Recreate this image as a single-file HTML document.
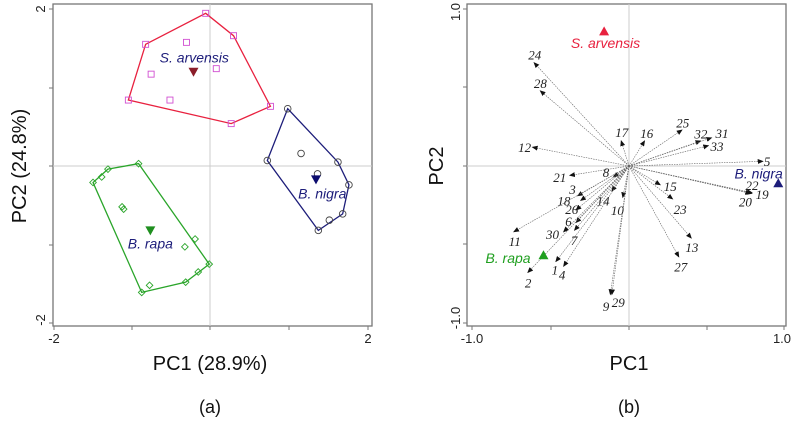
<!DOCTYPE html>
<html><head><meta charset="utf-8"><style>
body{margin:0;background:#fff;width:793px;height:420px;overflow:hidden}
svg{font-family:"Liberation Sans",sans-serif}
</style></head><body>
<svg id="c" width="793" height="420">
<g id="A"></g>
<g id="B"></g>
</svg>
<script>
// Panel (a) scores
const arvX=[-0.055,0.30,-0.82,-0.30,-0.75,0.08,-1.04,-0.51,0.27,0.77];
const arvY=[1.945,1.66,1.55,1.575,1.17,1.24,0.84,0.84,0.54,0.76];
const arvHull=[0,1,9,8,6,2];
const nigX=[0.99,1.16,0.73,1.63,1.37,1.77,1.69,1.52,1.38];
const nigY=[0.73,0.16,0.07,0.05,-0.10,-0.24,-0.61,-0.69,-0.82];
const nigHull=[0,3,5,6,8,2];
const rapX=[-0.91,-1.30,-1.38,-1.49,-1.12,-1.10,-0.19,-0.32,-0.01,-0.15,-0.31,-0.77,-0.87];
const rapY=[0.03,-0.04,-0.14,-0.21,-0.52,-0.55,-0.93,-1.03,-1.25,-1.35,-1.48,-1.52,-1.61];
const rapHull=[0,8,10,12,3,1];
const centroidsAX=[-0.21,1.35,-0.76];
const centroidsAY=[1.20,-0.17,-0.82];
const centroidLabelX=[-0.20,1.43,-0.76];
const centroidLabelY=[1.38,-0.35,-0.99];
// Panel (b) loadings
const varNames=["24","28","12","17","16","25","32","31","33","5","22","19","20","15","23","13","27","10","29","9","8","21","3","18","26","14","6","30","7","11","1","4","2"];
const varX=[-0.61,-0.57,-0.62,-0.05,0.10,0.34,0.46,0.53,0.51,0.86,0.79,0.79,0.78,0.20,0.28,0.40,0.32,-0.04,-0.11,-0.12,-0.10,-0.38,-0.33,-0.31,-0.34,-0.11,-0.34,-0.42,-0.35,-0.74,-0.47,-0.42,-0.65];
const varY=[0.66,0.48,0.12,0.16,0.16,0.23,0.16,0.18,0.13,0.03,-0.17,-0.175,-0.175,-0.12,-0.21,-0.46,-0.58,-0.20,-0.82,-0.82,-0.07,-0.06,-0.19,-0.22,-0.28,-0.16,-0.36,-0.42,-0.41,-0.42,-0.61,-0.64,-0.68];
const varLabelX=[-0.606,-0.570,-0.671,-0.047,0.114,0.346,0.462,0.598,0.566,0.888,0.791,0.856,0.748,0.265,0.329,0.404,0.333,-0.075,-0.069,-0.148,-0.148,-0.445,-0.363,-0.419,-0.368,-0.166,-0.389,-0.492,-0.353,-0.735,-0.477,-0.430,-0.649];
const varLabelY=[0.711,0.529,0.122,0.218,0.212,0.278,0.208,0.212,0.128,0.032,-0.120,-0.178,-0.227,-0.128,-0.274,-0.516,-0.642,-0.281,-0.869,-0.895,-0.039,-0.071,-0.146,-0.221,-0.274,-0.221,-0.353,-0.435,-0.473,-0.478,-0.660,-0.692,-0.745];
const speciesB=["S. arvensis","B. nigra","B. rapa"];
const speciesBX=[-0.16,0.96,-0.55];
const speciesBY=[0.86,-0.11,-0.57];
const speciesLabelX=[-0.151,0.834,-0.778];
const speciesLabelY=[0.786,-0.049,-0.589];

const NS="http://www.w3.org/2000/svg";
function mk(p,t,a,txt){const e=document.createElementNS(NS,t);for(const k in a)e.setAttribute(k,a[k]);if(txt!==undefined)e.textContent=txt;p.appendChild(e);return e;}
const A=document.getElementById('A'),B=document.getElementById('B');

const ax=v=>210+v*78.5, ay=v=>166-v*78.5;
function frame(g,x0,x1,y0,y1,cx,cy,xt,yt,name){
  let r=mk(g,'rect',{x:x0,y:y0,width:x1-x0,height:y1-y0,fill:'none',stroke:'#777','stroke-width':1.3});
  
  mk(g,'line',{x1:x0,x2:x1,y1:cy,y2:cy,stroke:'#ccc','stroke-width':1});
  mk(g,'line',{x1:cx,x2:cx,y1:y0,y2:y1,stroke:'#ccc','stroke-width':1});
  xt.forEach(x=>mk(g,'line',{x1:x,x2:x,y1:y1,y2:y1+4,stroke:'#777'}));
  yt.forEach(y=>mk(g,'line',{x1:x0,x2:x0-4,y1:y,y2:y,stroke:'#777'}));
}
frame(A,53,372,4,326,210,166,[54,132,210,289,368],[9,88,166,245,323],'panel-a');
let t;
t=mk(A,'text',{x:54,y:343,'font-size':13,'text-anchor':'middle',fill:'#222'},'-2');
t=mk(A,'text',{x:368,y:343,'font-size':13,'text-anchor':'middle',fill:'#222'},'2');
t=mk(A,'text',{x:0,y:0,'font-size':13,'text-anchor':'middle',fill:'#222',transform:'translate(45,9) rotate(-90)'},'2');
t=mk(A,'text',{x:0,y:0,'font-size':13,'text-anchor':'middle',fill:'#222',transform:'translate(45,320) rotate(-90)'},'-2');
t=mk(A,'text',{x:210,y:370,'font-size':20,'text-anchor':'middle',fill:'#111'},'PC1 (28.9%)');
t=mk(A,'text',{x:0,y:0,'font-size':20,'text-anchor':'middle',fill:'#111',transform:'translate(26,166) rotate(-90)'},'PC2 (24.8%)');
t=mk(A,'text',{x:210,y:413,'font-size':18,'text-anchor':'middle',fill:'#111'},'(a)');

function group(X,Y,H,col,hc,shape,name){
  let pts=H.map(i=>ax(X[i])+','+ay(Y[i])).join(' ');
  let p=mk(A,'polygon',{points:pts,fill:'none',stroke:hc,'stroke-width':1.3});
  
  X.forEach((x,i)=>{let cx=ax(x),cy=ay(Y[i]),e;
    if(shape=='sq')e=mk(A,'rect',{x:cx-3,y:cy-3,width:6,height:6,fill:'none',stroke:col,'stroke-width':0.9});
    else if(shape=='ci')e=mk(A,'circle',{cx:cx,cy:cy,r:3.3,fill:'none',stroke:col,'stroke-width':0.9});
    else e=mk(A,'polygon',{points:`${cx},${cy-3.3} ${cx+3.3},${cy} ${cx},${cy+3.3} ${cx-3.3},${cy}`,fill:'none',stroke:col,'stroke-width':0.9});
    });
}
group(arvX,arvY,arvHull,'#d14fd1','#e8213f','sq','s-arvensis');
group(nigX,nigY,nigHull,'#444','#1d1d7a','ci','b-nigra');
group(rapX,rapY,rapHull,'#2aa52a','#2aa52a','di','b-rapa');
const cCols=['#8b1e2a','#0c0c6e','#1f8f1f'],cNames=['S. arvensis','B. nigra','B. rapa'];
centroidsAX.forEach((cx0,i)=>{let x=ax(cx0),y=ay(centroidsAY[i]);
  let e=mk(A,'polygon',{points:`${x-5},${y-4} ${x+5},${y-4} ${x},${y+5}`,fill:cCols[i]});
  
  let l=mk(A,'text',{x:ax(centroidLabelX[i]),y:ay(centroidLabelY[i])+5,'font-size':14,'font-style':'italic','text-anchor':'middle',fill:'#1d1d7a'},cNames[i]);
  });

// panel b
const bx=v=>629+v*155.5, by=v=>166-v*156.5;
frame(B,467,786,4,326,629,166,[472,551,629,707,784],[9,87,166,244,323],'panel-b');
[['-1.0',472],['1.0',782]].forEach(a=>{t=mk(B,'text',{x:a[1],y:343,'font-size':13,'text-anchor':'middle',fill:'#222'},a[0]);});
[['1.0',12],['-1.0',318]].forEach(a=>{t=mk(B,'text',{x:0,y:0,'font-size':13,'text-anchor':'middle',fill:'#222',transform:`translate(460,${a[1]}) rotate(-90)`},a[0]);});
t=mk(B,'text',{x:629,y:370,'font-size':20,'text-anchor':'middle',fill:'#111'},'PC1');
t=mk(B,'text',{x:0,y:0,'font-size':20,'text-anchor':'middle',fill:'#111',transform:'translate(443,166) rotate(-90)'},'PC2');
t=mk(B,'text',{x:629,y:413,'font-size':18,'text-anchor':'middle',fill:'#111'},'(b)');
const defs=mk(B,'defs',{});
const m=mk(defs,'marker',{id:'ah',markerWidth:6,markerHeight:5,refX:5,refY:2.5,orient:'auto',markerUnits:'userSpaceOnUse'});
mk(m,'path',{d:'M0,0 L6,2.5 L0,5 z',fill:'#111'});
varNames.forEach((n,i)=>{
  let x=bx(varX[i]),y=by(varY[i]);
  let l=mk(B,'line',{x1:629,y1:166,x2:x,y2:y,stroke:'#666','stroke-width':0.6,'stroke-dasharray':'1.5,1','marker-end':'url(#ah)'});
  
  let e=mk(B,'text',{x:bx(varLabelX[i]),y:by(varLabelY[i])+5,'font-size':13,'font-style':'italic','font-family':'Liberation Serif,serif','text-anchor':'middle',fill:'#222'},n);
  
});
const sbCols=['#e8213f','#1d1d7a','#1f9f1f'];
speciesB.forEach((s,i)=>{let x=bx(speciesBX[i]),y=by(speciesBY[i]);
  let e=mk(B,'polygon',{points:`${x-5},${y+4} ${x+5},${y+4} ${x},${y-5}`,fill:sbCols[i]});
  
  let l=mk(B,'text',{x:bx(speciesLabelX[i]),y:by(speciesLabelY[i])+5,'font-size':14,'font-style':'italic','text-anchor':'middle',fill:sbCols[i]},s);
  });
</script>
</body></html>
